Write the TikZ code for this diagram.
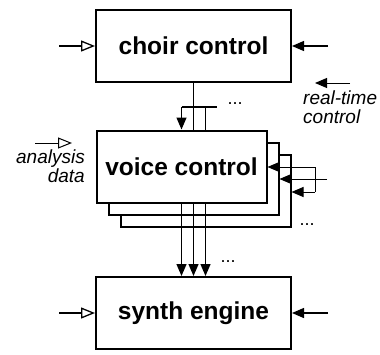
\documentclass[tikz,border=0pt]{standalone}
\usepackage{fontspec}
\setmainfont{Liberation Sans}
\usetikzlibrary{arrows.meta, positioning, calc}
\tikzset{
  block/.style  = {draw, line width=2pt, fill=white, minimum height=72pt,
                   inner sep=0pt, font=\bfseries\fontsize{24.5}{28}\selectfont},
  wire/.style   = {line width=1.3pt},
  thinwire/.style = {line width=1pt},
  filled/.style = {-{Triangle[length=12pt, width=10pt]}},
  hollow/.style = {-{Triangle[open, length=14pt, width=11pt, fill=white]}},
  note/.style   = {inner sep=0pt, font=\itshape\fontsize{19}{19}\selectfont},
  dots/.style   = {inner sep=0pt, font=\fontsize{18}{18}\selectfont},
}

\begin{document}
\begin{tikzpicture}[x=1pt, y=-1pt]
  \useasboundingbox (0,0) rectangle (380,354);
  % voice modules, back to front
  \node[block, minimum width=170pt] (voice3) at (205.5,190.5) {};
  \node[block, minimum width=170pt] (voice2) at (193.5,178.5) {};
  \node[block, minimum width=170pt] (voice)  at (181.5,166.5) {voice control};
  \node[block, minimum width=195pt] (choir) at (193.5,46)  {choir control};
  \node[block, minimum width=195pt] (synth) at (193.5,313) {synth engine};

  % outside inputs of choir and synth
  \foreach \n in {choir, synth} {
    \coordinate (\n-l) at ($(\n.west)+(-36,0)$);
    \coordinate (\n-r) at ($(\n.east)+(36,0)$);
    \draw[wire, hollow] (\n-l) -- (\n.west);
    \draw[wire, filled] (\n-r) -- (\n.east);
  }

  % choir -> voices
  \coordinate (busL) at (181.5,107);
  \coordinate (busR) at (217,107);
  \draw[wire] (choir.south) -- (choir.south |- voice.north);
  \draw[wire] (busL) -- (busR);
  \draw[wire, filled] (busL) -- (busL |- voice.north);
  \draw[wire] ($(busL)+(24,0)$) coordinate (busC) -- (busC |- voice.north);
  \node[dots] (dotsA) at (235,104) {...};

  % voices -> synth
  \foreach \dx in {0,12,24} {
    \coordinate (v\dx) at ($(voice.south)+(\dx,0)$);
    \draw[wire, filled] (v\dx) -- (v\dx |- synth.north);
  }
  \node[dots] (dotsB) at (228,262) {...};

  % real-time input fanned out to the voices
  \coordinate (rtin) at (327,179);
  \coordinate (forkT) at (315,167);
  \coordinate (forkB) at (315,192);
  \draw[thinwire] (forkT) -- (forkB);
  \draw[thinwire, filled] (forkT) -- (forkT -| voice.east);
  \draw[thinwire, filled] (rtin) -- (rtin -| voice2.east);
  \draw[thinwire, filled] (forkB) -- (forkB -| voice3.east);
  \node[dots] (dotsC) at (307,225) {...};

  % legend
  \coordinate (anA) at (35,143);
  \coordinate (anB) at (72,143);
  \draw[thinwire, hollow] (anA) -- (anB);
  \node[note, align=right, anchor=north east] (analysis) at (85,149.5) {analysis\\data};
  \coordinate (rtA) at (350,83);
  \coordinate (rtB) at (315,83);
  \draw[thinwire, filled] (rtA) -- (rtB);
  \node[note, align=left, anchor=north west] (rtlabel) at (303,91) {real-time\\control};
\end{tikzpicture}
\end{document}
